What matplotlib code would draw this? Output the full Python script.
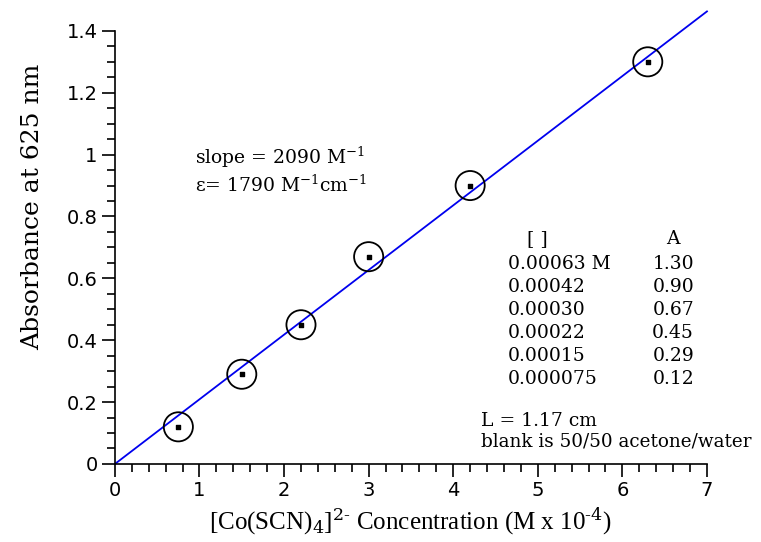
import matplotlib
matplotlib.use("Agg")
import matplotlib.pyplot as plt
import numpy as np
from matplotlib.ticker import MultipleLocator

# data (concentration in units of 1e-4 M, absorbance)
conc = [0.75, 1.5, 2.2, 3.0, 4.2, 6.3]
absorb = [0.12, 0.29, 0.45, 0.67, 0.90, 1.30]
slope = 0.209  # per 1e-4 M
fit_x = [0, 7]

table_conc = ["0.00063 M", "0.00042", "0.00030", "0.00022", "0.00015", "0.000075"]
table_abs = ["1.30", "0.90", "0.67", "0.45", "0.29", "0.12"]

serif = "DejaVu Serif"
times = "Liberation Serif"
sans = "DejaVu Sans"

plt.rcParams["mathtext.fontset"] = "dejavuserif"

fig = plt.figure(figsize=(7.61, 5.42), dpi=100)
ax = fig.add_axes([0.151, 0.144, 0.778, 0.799])

fx = np.array(fit_x)
ax.plot(fx, slope * fx, color="#0000ee", lw=1.3, clip_on=False, zorder=2)
ax.scatter(conc, absorb, s=440, facecolors="none", edgecolors="black", linewidths=1.3, zorder=3, clip_on=False)
ax.scatter(conc, absorb, s=10, marker="s", color="black", zorder=4)

ax.set_xlim(0, 7)
ax.set_ylim(0, 1.4)
ax.spines["top"].set_visible(False)
ax.spines["right"].set_visible(False)
ax.spines["left"].set_linewidth(1.2)
ax.spines["bottom"].set_linewidth(1.2)
ax.xaxis.set_major_locator(MultipleLocator(1))
ax.xaxis.set_minor_locator(MultipleLocator(0.2))
ax.yaxis.set_major_locator(MultipleLocator(0.2))
ax.yaxis.set_minor_locator(MultipleLocator(0.05))
ax.tick_params(which="major", direction="out", length=9.5, width=1.2, labelsize=14, pad=3)
ax.tick_params(which="minor", direction="out", length=5.5, width=1.2)
ax.set_yticks(np.arange(0, 1.41, 0.2))
ax.set_yticklabels(["0", "0.2", "0.4", "0.6", "0.8", "1", "1.2", "1.4"], family=sans)
ax.set_xticks(range(8))
ax.set_xticklabels([str(i) for i in range(8)], family=sans)

ax.set_ylabel("Absorbance at 625 nm", family=serif, fontsize=18)
ax.yaxis.set_label_coords(-0.12, 0.593)
ax.set_xlabel(r"[Co(SCN)$_4$]$^{2\text{-}}$ Concentration (M x 10$^{\text{-}4}$)", family=times, fontsize=18, labelpad=4)

fs = 13.5
ax.text(0.95, 0.99, r"slope = 2090 M$^{-1}$", family=serif, fontsize=fs, va="center")
ax.text(0.95, 0.90, r"ε= 1790 M$^{-1}$cm$^{-1}$", family=serif, fontsize=fs, va="center")

ax.text(5.0, 0.728, "[ ]", family=serif, fontsize=fs, ha="center", va="center")
ax.text(6.6, 0.728, "A", family=serif, fontsize=fs, ha="center", va="center")
for i, (c, a) in enumerate(zip(table_conc, table_abs)):
    y = 0.648 - i * 0.0745
    ax.text(4.65, y, c, family=serif, fontsize=fs, va="center")
    ax.text(6.6, y, a, family=serif, fontsize=fs, ha="center", va="center")

ax.text(4.33, 0.139, "L = 1.17 cm", family=serif, fontsize=fs, va="center")
ax.text(4.33, 0.072, "blank is 50/50 acetone/water", family=serif, fontsize=fs * 0.98, va="center")

fig.savefig("out.png", dpi=100)
